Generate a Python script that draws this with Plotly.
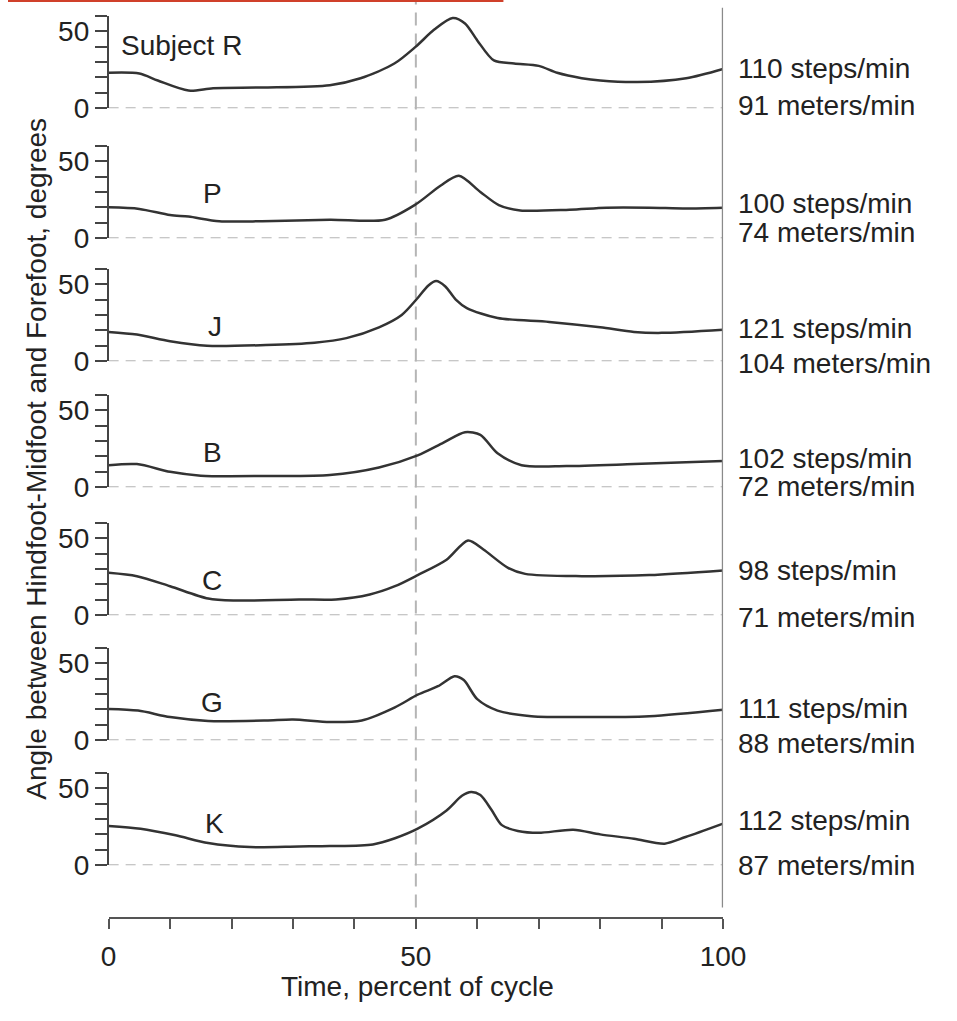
import plotly.graph_objects as go

# ---------------- data ----------------
subjects = ["Subject R", "P", "J", "B", "C", "G", "K"]
steps_per_min = [110, 100, 121, 102, 98, 111, 112]
meters_per_min = [91, 74, 104, 72, 71, 88, 87]

t_R = [0, 5, 8, 13, 17, 25, 36, 41, 46.5, 50, 53, 56, 58, 60, 62.7, 66, 70, 73, 77, 80, 86, 94, 100]
a_R = [23, 22.5, 18, 11.5, 13, 13.5, 15, 19.5, 29, 40, 51, 58.5, 55, 44, 31, 29, 27.5, 23, 19.5, 18, 17, 19.5, 25.5]

t_P = [0, 5, 10, 13, 18, 25, 36, 45, 50, 54, 57, 60.5, 63.5, 67, 75, 81, 88, 94, 100]
a_P = [20, 19, 15, 14, 11, 11, 12, 12, 22, 34, 40.5, 30, 21.5, 18, 18.5, 19.8, 19.8, 19.3, 19.8]

t_J = [0, 4.6, 10, 16, 25.6, 33.5, 38.7, 44, 47.7, 50.3, 52, 53.3, 54.8, 56.5, 58.3, 63.3, 71.7, 80, 85.5, 90, 100]
a_J = [19, 17.3, 13, 10, 10.5, 12, 15, 22, 30, 41, 49, 52, 48.5, 40, 34.5, 28, 25.5, 22, 19, 18.4, 20.5]

t_B = [0, 4.6, 10, 15, 25.6, 36, 44, 50.3, 54.5, 58, 60.5, 63.3, 67.2, 74.5, 85.5, 100]
a_B = [14.3, 15, 10, 7.5, 7.3, 7.9, 12.8, 20.7, 29, 35.7, 34, 22, 14.3, 13.7, 15, 17]

t_C = [0, 4.6, 10, 16.2, 20.4, 31, 37, 42.5, 46.6, 50.3, 55, 58.5, 61, 65, 67.8, 77, 88, 100]
a_C = [27.5, 25.3, 18.8, 10.8, 9.5, 10.2, 10.2, 13.4, 18.8, 26, 36, 48.5, 42.6, 30.7, 26.8, 25.3, 26, 29]

t_G = [0, 4.8, 10, 16.2, 25.6, 30, 36, 41.2, 46.6, 50.3, 53.6, 56.3, 57.8, 60, 63.3, 68.8, 77, 88, 100]
a_G = [20.3, 19.2, 15, 12.5, 12.8, 13.5, 11.8, 12.8, 21.3, 29.5, 35, 41.5, 39, 26.6, 19.2, 15.6, 15, 15.6, 19.8]

t_K = [0, 5.2, 10.9, 16.2, 23, 31, 36, 43, 46.6, 50.3, 55, 57.5, 59, 60.5, 62.3, 64, 66.6, 70, 75.6, 80, 85.5, 90.5, 93.9, 100]
a_K = [25.5, 23.7, 19.4, 14.4, 11.8, 12.2, 12.4, 13.5, 17.5, 23.7, 35.5, 45, 47.5, 45.5, 36, 26, 22.2, 21, 23, 20, 17.2, 14, 18.3, 27]

times = [t_R, t_P, t_J, t_B, t_C, t_G, t_K]
angles = [a_R, a_P, a_J, a_B, a_C, a_G, a_K]

x_ticks = [0, 10, 20, 30, 40, 50, 60, 70, 80, 90, 100]
x_labels = ["0", "", "", "", "", "50", "", "", "", "", "100"]
y_ticks = [0, 10, 20, 30, 40, 50, 60]
y_labels = ["0", "", "", "", "", "50", ""]

# ---------------- layout constants (pixels) ----------------
W, H = 957, 1021
FONT = "Liberation Sans, Arial, Helvetica, sans-serif"
FS = 28
TXT = "#222222"
zero_px = [110, 242, 367, 495, 625, 752, 879]
PX_PER_UNIT = 1.567
label_pos = [(11.8, 41), (16.9, 29), (17.3, 22.4), (16.9, 22.4), (16.9, 22.4), (16.9, 24.4), (17.2, 27)]
steps_px = [70, 207, 334, 466, 580, 720, 834]
meters_px = [107, 236, 369, 494, 627, 755, 879]

X_LEFT, X_RIGHT = 104, 739
X_AXIS_PX = 933

def px_to_paper_y(p):
    return 1 - p / H

fig = go.Figure()
layout = dict(
    width=W, height=H, autosize=False,
    margin=dict(l=0, r=0, t=0, b=0, pad=0),
    paper_bgcolor="white", plot_bgcolor="rgba(0,0,0,0)",
    showlegend=False,
    font=dict(family=FONT, size=FS, color=TXT),
    xaxis=dict(
        domain=[X_LEFT / W, X_RIGHT / W], range=[0, 100],
        anchor="free", position=px_to_paper_y(X_AXIS_PX),
        showgrid=False, zeroline=False,
        showline=True, linecolor="#555555", linewidth=2,
        ticks="outside", ticklen=10, tickwidth=2, tickcolor="#555555",
        tickvals=x_ticks, ticktext=x_labels,
        tickfont=dict(family=FONT, size=FS, color=TXT),
        ticklabelstandoff=3,
    ),
)

shapes = []
annotations = []
for i, (t, a) in enumerate(zip(times, angles)):
    yname = "y" if i == 0 else f"y{i + 1}"
    ykey = "yaxis" if i == 0 else f"yaxis{i + 1}"
    z = zero_px[i]
    top = z - 60 * PX_PER_UNIT
    layout[ykey] = dict(
        domain=[px_to_paper_y(z), px_to_paper_y(top)], range=[0, 60],
        anchor="x", showgrid=False, zeroline=False,
        showline=True, linecolor="#444444", linewidth=1.5,
        ticks="outside", ticklen=12, tickwidth=1.5, tickcolor="#444444",
        tickvals=y_ticks, ticktext=y_labels,
        tickfont=dict(family=FONT, size=FS, color=TXT),
    )
    fig.add_trace(go.Scatter(
        x=t, y=a, xaxis="x", yaxis=yname, mode="lines",
        line=dict(color="#333333", width=2.5, shape="spline", smoothing=0.8),
        hoverinfo="skip",
    ))
    shapes.append(dict(type="line", xref="x", yref=yname, x0=0, x1=100, y0=0, y1=0,
                       line=dict(color="#b5b5b5", width=2, dash="10px,7px"), layer="below"))
    lx, ly = label_pos[i]
    annotations.append(dict(text=subjects[i], xref="x", yref=yname, x=lx, y=ly,
                            showarrow=False, xanchor="center", yanchor="middle",
                            font=dict(family=FONT, size=FS, color=TXT)))
    annotations.append(dict(text=f"{steps_per_min[i]} steps/min", xref="paper", yref="paper",
                            x=752 / W, y=px_to_paper_y(steps_px[i]), showarrow=False,
                            xanchor="left", yanchor="middle",
                            font=dict(family=FONT, size=FS, color=TXT)))
    annotations.append(dict(text=f"{meters_per_min[i]} meters/min", xref="paper", yref="paper",
                            x=752 / W, y=px_to_paper_y(meters_px[i]), showarrow=False,
                            xanchor="left", yanchor="middle",
                            font=dict(family=FONT, size=FS, color=TXT)))

shapes.append(dict(type="line", xref="x", yref="paper", x0=50, x1=50,
                   y0=px_to_paper_y(922), y1=1,
                   line=dict(color="#b5b5b5", width=2, dash="13px,8px"), layer="below"))
shapes.append(dict(type="line", xref="x", yref="paper", x0=100, x1=100,
                   y0=px_to_paper_y(922), y1=px_to_paper_y(8),
                   line=dict(color="#8a8a8a", width=2.5)))
shapes.append(dict(type="line", xref="paper", yref="paper", x0=0, x1=512 / W,
                   y0=px_to_paper_y(1), y1=px_to_paper_y(1),
                   line=dict(color="#d0402a", width=2)))

annotations.append(dict(text="Time, percent of cycle", xref="paper", yref="paper",
                        x=423 / W, y=px_to_paper_y(1002), showarrow=False,
                        xanchor="center", yanchor="middle",
                        font=dict(family=FONT, size=FS, color=TXT)))
annotations.append(dict(text="Angle between Hindfoot-Midfoot and Forefoot, degrees",
                        xref="paper", yref="paper", x=30 / W, y=px_to_paper_y(466),
                        showarrow=False, textangle=-90, xanchor="center", yanchor="middle",
                        font=dict(family=FONT, size=FS, color=TXT)))

layout["shapes"] = shapes
layout["annotations"] = annotations
fig.update_layout(**layout)

post = """
var gd = document.getElementById('{plot_id}');
document.documentElement.style.margin = '0';
document.body.style.margin = '0';
document.body.style.overflow = 'hidden';
"""
fig.write_html(
    "out.html",
    config={"responsive": False, "displayModeBar": False},
    post_script=post,
)
